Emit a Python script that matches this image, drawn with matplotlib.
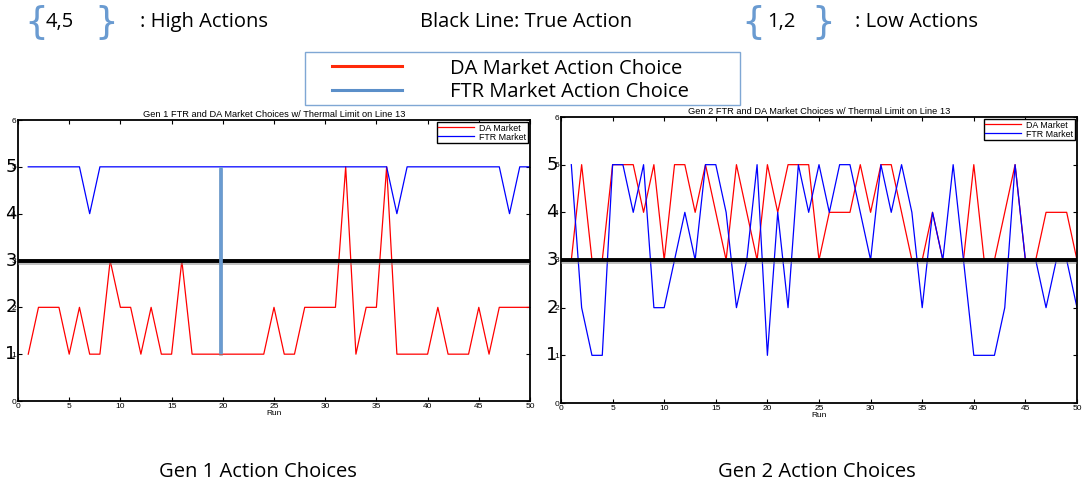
import numpy as np
import matplotlib
matplotlib.use("Agg")
import matplotlib.pyplot as plt
import matplotlib.patheffects as pe
from matplotlib.patches import Rectangle
from matplotlib.lines import Line2D
from matplotlib.transforms import blended_transform_factory

# ---- data ----
runs = list(range(1, 51))

gen1_da = [1, 2, 2, 2, 1, 2, 1, 1, 3, 2,
           2, 1, 2, 1, 1, 3, 1, 1, 1, 1,
           1, 1, 1, 1, 2, 1, 1, 2, 2, 2,
           2, 5, 1, 2, 2, 5, 1, 1, 1, 1,
           2, 1, 1, 1, 2, 1, 2, 2, 2, 2]
gen1_ftr = [5, 5, 5, 5, 5, 5, 4, 5, 5, 5,
            5, 5, 5, 5, 5, 5, 5, 5, 5, 5,
            5, 5, 5, 5, 5, 5, 5, 5, 5, 5,
            5, 5, 5, 5, 5, 5, 4, 5, 5, 5,
            5, 5, 5, 5, 5, 5, 5, 4, 5, 5]

gen2_da = [3, 5, 3, 3, 5, 5, 5, 4, 5, 3,
           5, 5, 4, 5, 4, 3, 5, 4, 3, 5,
           4, 5, 5, 5, 3, 4, 4, 4, 5, 4,
           5, 5, 4, 3, 3, 4, 3, 3, 3, 5,
           3, 3, 4, 5, 3, 3, 4, 4, 4, 3]
gen2_ftr = [5, 2, 1, 1, 5, 5, 4, 5, 2, 2,
            3, 4, 3, 5, 5, 4, 2, 3, 5, 1,
            4, 2, 5, 4, 5, 4, 5, 5, 4, 3,
            5, 4, 5, 4, 2, 4, 3, 5, 3, 1,
            1, 1, 2, 5, 3, 3, 2, 3, 3, 2]

true_action = 3
marked_run = 19.8          # blue marker line in the Gen 1 plot
marked_range = (1, 5)
big_labels = [1, 2, 3, 4, 5]

W, H = 1082, 486
fig = plt.figure(figsize=(W / 100, H / 100), dpi=100)
plt.rcParams['font.family'] = ['Liberation Sans', 'DejaVu Sans']

def fx(px):
    return px / W

def fy(py):
    return 1 - py / H

slide_font = ['Open Sans', 'DejaVu Sans']
slide_size = 14.5
brace_col = '#6a9bd1'
row_y = 22

def brace(x, ch):
    fig.text(fx(x), fy(row_y + 1), ch, fontsize=27, color=brace_col, family=['DejaVu Sans'],
             ha='center', va='center')

# ---- header text row ----
brace(36, '{')
fig.text(fx(60), fy(row_y), '4,5', fontsize=slide_size, family=slide_font, ha='center', va='center')
brace(106, '}')
fig.text(fx(140), fy(row_y), ': High Actions', fontsize=slide_size, family=slide_font, va='center')
fig.text(fx(526), fy(row_y), 'Black Line: True Action', fontsize=slide_size, family=slide_font,
         ha='center', va='center')
brace(753, '{')
fig.text(fx(781), fy(row_y), '1,2', fontsize=slide_size, family=slide_font, ha='center', va='center')
brace(823, '}')
fig.text(fx(855), fy(row_y), ': Low Actions', fontsize=slide_size, family=slide_font, va='center')

# ---- slide legend box ----
fig.patches.append(Rectangle((fx(305), fy(105)), fx(740) - fx(305), fy(52) - fy(105),
                             transform=fig.transFigure, fill=False,
                             edgecolor='#7fa7d4', lw=1.0))
fig.lines.append(Line2D([fx(332), fx(402)], [fy(66), fy(66)], transform=fig.transFigure,
                        color='#ff2a0a', lw=2.2))
fig.lines.append(Line2D([fx(332), fx(402)], [fy(90), fy(90)], transform=fig.transFigure,
                        color='#5b8fc9', lw=2.2))
fig.text(fx(450), fy(69), 'DA Market Action Choice', fontsize=slide_size, family=slide_font,
         va='center')
fig.text(fx(450), fy(92), 'FTR Market Action Choice', fontsize=slide_size, family=slide_font,
         va='center')

# ---- the two matlab-style plots ----
shadow = [pe.SimpleLineShadow(offset=(0, -1.5), shadow_color='gray', alpha=0.5), pe.Normal()]

def market_plot(rect, da, ftr, title, big_x):
    ax = fig.add_axes(rect)
    ax.plot(runs, da, color='red', lw=0.9, label='DA Market')
    ax.plot(runs, ftr, color='blue', lw=0.9, label='FTR Market')
    ax.axhline(true_action, color='black', lw=2.8, path_effects=shadow, zorder=4)
    ax.set_xlim(0, 50)
    ax.set_ylim(0, 6)
    ax.set_xticks(range(0, 51, 5))
    ax.set_yticks(range(0, 7))
    ax.tick_params(direction='in', length=3, width=0.8, labelsize=6,
                   top=True, right=True, pad=1.5)
    for s in ax.spines.values():
        s.set_linewidth(1.3)
    ax.set_title(title, fontsize=6.7, pad=2)
    ax.set_xlabel('Run', fontsize=6, labelpad=0)
    leg = ax.legend(loc='upper right', fontsize=6.4, fancybox=False, framealpha=1,
                    borderpad=0.15, handlelength=4.0, handletextpad=0.6,
                    labelspacing=0.0, borderaxespad=0.25)
    leg.get_frame().set_edgecolor('black')
    leg.get_frame().set_linewidth(1.0)
    tr = blended_transform_factory(fig.transFigure, ax.transData)
    for v in big_labels:
        ax.text(fx(big_x), v, str(v), transform=tr, fontsize=13, family=['DejaVu Sans'],
                ha='center', va='center', clip_on=False)
    return ax

ax1 = market_plot([fx(18), fy(401), fx(530) - fx(18), fy(120) - fy(401)],
                  gen1_da, gen1_ftr,
                  'Gen 1 FTR and DA Market Choices w/ Thermal Limit on Line 13', 11)
ax1.plot([marked_run, marked_run], marked_range, color='#6a9bd1', lw=2.6,
         solid_capstyle='butt', path_effects=shadow, zorder=5)

ax2 = market_plot([fx(561), fy(403), fx(1077) - fx(561), fy(117) - fy(403)],
                  gen2_da, gen2_ftr,
                  'Gen 2 FTR and DA Market Choices w/ Thermal Limit on Line 13', 552)

# ---- captions ----
fig.text(fx(258), fy(472), 'Gen 1 Action Choices', fontsize=slide_size, family=slide_font,
         ha='center', va='center')
fig.text(fx(817), fy(472), 'Gen 2 Action Choices', fontsize=slide_size, family=slide_font,
         ha='center', va='center')

fig.savefig('out.png', dpi=100)
